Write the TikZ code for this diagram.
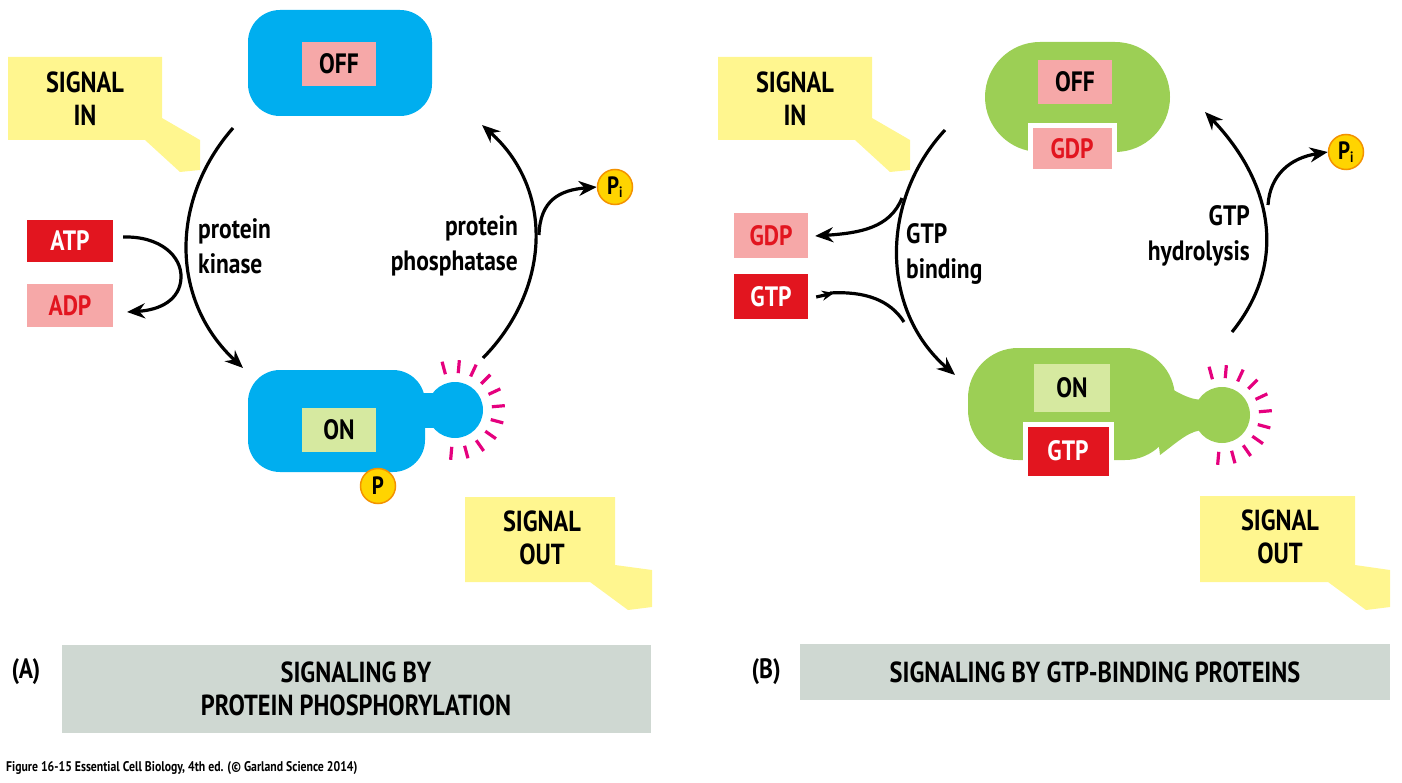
\documentclass[tikz,border=0pt]{standalone}
\usepackage{fontspec}
\setmainfont{PT Sans}[FakeStretch=0.84]
\usetikzlibrary{arrows.meta,calc}
\definecolor{cblue}{HTML}{00AEEF}
\definecolor{cgreen}{HTML}{9CCF55}
\definecolor{cyel}{HTML}{FFF68F}
\definecolor{cpink}{HTML}{F6A8A8}
\definecolor{cred}{HTML}{E2151F}
\definecolor{con}{HTML}{D6E9A0}
\definecolor{cgray}{HTML}{CFD8D2}
\definecolor{cmag}{HTML}{E5007E}
\definecolor{cpy}{HTML}{FFD400}
\definecolor{cpo}{HTML}{F39200}
\begin{document}
\begin{tikzpicture}[x=1pt,y=-1pt,
  txt/.style={font=\fontsize{29}{33}\selectfont\bfseries, inner sep=0pt, align=center},
  lbl/.style={font=\fontsize{28}{35}\selectfont\bfseries, inner sep=0pt},
  box/.style={minimum width=74pt, minimum height=44pt, inner sep=0pt, font=\fontsize{28}{30}\selectfont\bfseries},
  arr/.style={line width=3.2pt, -{Stealth[length=18pt,width=15pt]}},
  ray/.style={cmag, line width=3.2pt},
  pc/.style={circle, fill=cpy, draw=cpo, line width=1.5pt, inner sep=0pt, minimum size=35pt, font=\fontsize{25}{26}\selectfont\bfseries},
  call/.style={fill=cyel}]
\useasboundingbox (0,0) rectangle (1402,783);
% ===== Panel A =====
\fill[call] (8,57)--(162,57)--(162,118)--(200,140)--(200,170)--(180,172)--(145,140)--(8,140)--cycle;
\node[txt] (sigin1) at (85,99) {SIGNAL\\IN};
\fill[cblue, rounded corners=32pt] (248,10) rectangle (432,116);
\node[box, fill=cpink] (off1) at (339,64) {OFF};
% ON shape
\fill[cblue, rounded corners=32pt] (248,370) rectangle (425,472);
\fill[cblue] (415,393) rectangle (440,428);
\fill[cblue] (455,410) circle (28);
\node[box, fill=con] (on1) at (339,430) {ON};
\node[pc] (p1) at (378,486) {P};
\foreach \a in {-105,-85,...,105}
  \draw[ray] ($(455,410)+(\a:37)$) -- ($(455,410)+(\a:50)$);
% arcs
\coordinate (a1s) at (233,128);
\coordinate (a1e) at (243,368);
\draw[arr] (a1s) .. controls (170,200) and (170,300) .. (a1e);
\node[box, fill=cred, text=white, minimum height=42pt, minimum width=86pt] (atp) at (70,241) {ATP};
\node[box, fill=cpink, text=cred, minimum height=43pt, minimum width=86pt] (adp) at (70,306) {ADP};
\draw[arr] ([shift={(10,-4)}]atp.east) .. controls (160,236) and (182,256) .. (181,278) .. controls (180,300) and (160,310) .. (127,312);
\node[lbl, anchor=west, align=left] (pk) at (198,246) {protein\\kinase};
\coordinate (a2s) at (483,358);
\coordinate (a2e) at (482,125);
\draw[arr] (a2s) .. controls (550,290) and (555,190) .. (a2e);
\node[pc] (pi1) at (615,187) {P\textsubscript{\fontsize{15}{15}\selectfont i}};
\draw[arr] (539,235) .. controls (540,200) and (560,190) .. (pi1.west);
\node[lbl, anchor=east, align=right] (pp) at (518,246) {protein\\phosphatase};
\fill[call] (465,497)--(615,497)--(615,565)--(652,570)--(652,607)--(628,610)--(590,582)--(465,582)--cycle;
\node[txt] (sigout1) at (542,538) {SIGNAL\\OUT};
% label
\node[font=\fontsize{28}{30}\selectfont\bfseries, anchor=west] (la) at (8,672) {(A)};
\node[fill=cgray, minimum width=589pt, minimum height=88pt, txt] (ta) at (356,689) {SIGNALING BY\\PROTEIN PHOSPHORYLATION};
% ===== Panel B =====
\fill[call] (718,57)--(872,57)--(872,118)--(910,140)--(910,170)--(890,172)--(855,140)--(718,140)--cycle;
\node[txt] (sigin2) at (795,99) {SIGNAL\\IN};
\fill[cgreen, rounded corners=55pt] (985,42) rectangle (1170,152);
\node[box, fill=cpink] (off2) at (1075,82) {OFF};
\node[box, fill=cpink, text=cred, draw=white, line width=5pt, minimum width=84pt, minimum height=46pt] (gdp2) at (1072,149) {GDP};
% ON blob
\fill[cgreen, rounded corners=50pt] (968,348) rectangle (1175,460);
\fill[cgreen] (1150,375) .. controls (1180,395) and (1190,400) .. (1205,400) -- (1205,430) .. controls (1190,430) and (1180,440) .. (1160,455) -- cycle;
\fill[cgreen] (1222,415) circle (28);
\node[box, fill=con, minimum width=76pt, minimum height=48pt] (on2) at (1072,388) {ON};
\node[box, fill=cred, text=white, draw=white, line width=5pt, minimum width=86pt, minimum height=54pt] (gtp2) at (1068,451) {GTP};
\foreach \a in {-105,-85,...,105}
  \draw[ray] ($(1222,415)+(\a:37)$) -- ($(1222,415)+(\a:50)$);
\draw[arr] (945,130) .. controls (880,200) and (880,310) .. (955,375);
\node[box, fill=cpink, text=cred, minimum height=45pt] (gdp3) at (771,236) {GDP};
\node[box, fill=cred, text=white, minimum height=45pt] (gtp3) at (771,297) {GTP};
\draw[arr] (902,198) .. controls (890,228) and (860,233) .. ([xshift=7pt]gdp3.east);
\draw[line width=3.2pt] (830,293) .. controls (865,291) and (890,300) .. (904,322);
\draw[-{Stealth[length=12pt,width=10pt]}, line width=3.2pt] ([xshift=8pt]gtp3.east) -- (834,293);
\node[lbl, anchor=west, align=left] (gb) at (906,254) {GTP\\binding};
\draw[arr] (1232,332) .. controls (1290,260) and (1270,180) .. (1205,112);
\node[pc] (pi2) at (1346,152) {P\textsubscript{\fontsize{15}{15}\selectfont i}};
\draw[arr] (1268,205) .. controls (1270,175) and (1290,158) .. (pi2.west);
\node[lbl, anchor=east, align=right] (gh) at (1250,236) {GTP\\hydrolysis};
\fill[call] (1200,496)--(1355,496)--(1355,565)--(1390,570)--(1390,607)--(1366,610)--(1328,582)--(1200,582)--cycle;
\node[txt] (sigout2) at (1280,537) {SIGNAL\\OUT};
\node[font=\fontsize{28}{30}\selectfont\bfseries, anchor=west] (lb) at (748,672) {(B)};
\node[fill=cgray, minimum width=590pt, minimum height=56pt, txt] (tb) at (1095,672) {SIGNALING BY GTP-BINDING PROTEINS};
\node[anchor=west, font=\fontsize{14}{15}\selectfont\bfseries, inner sep=0pt] (cap) at (6,768) {Figure 16-15 Essential Cell Biology, 4th ed. (© Garland Science 2014)};
\end{tikzpicture}
\end{document}
